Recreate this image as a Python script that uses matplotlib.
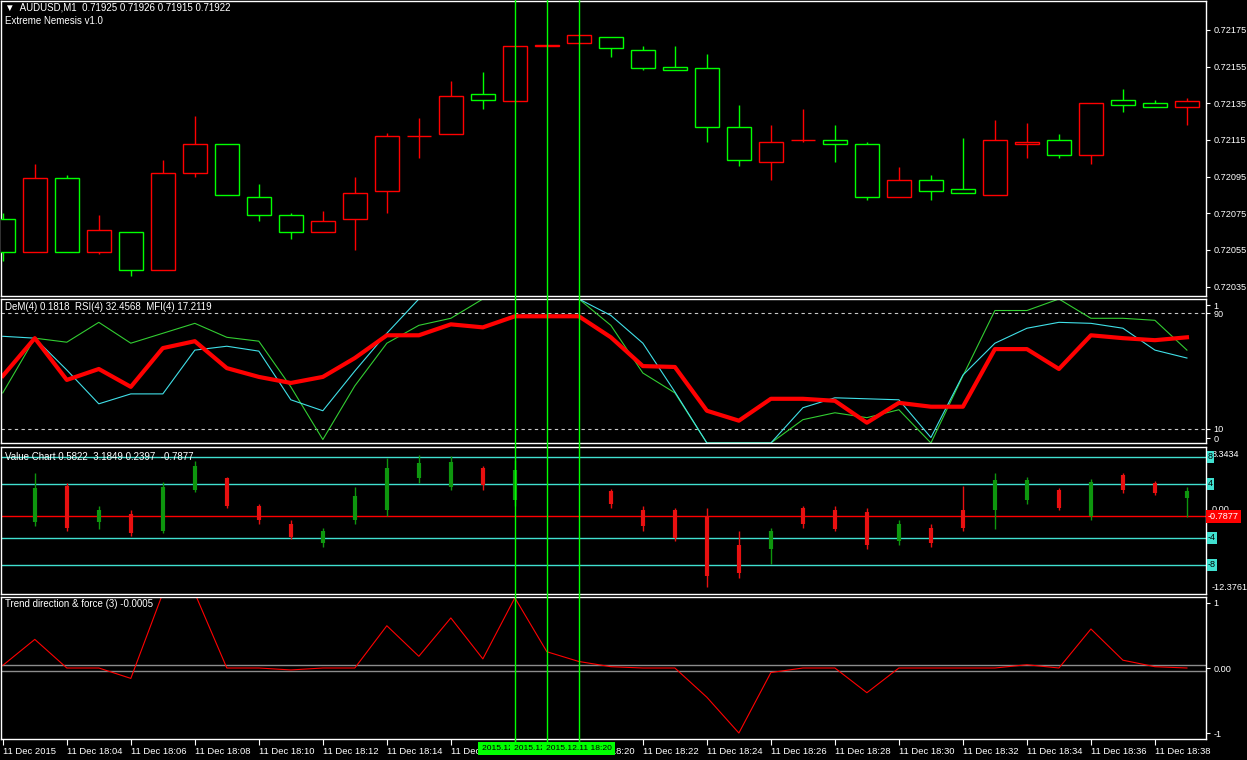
import matplotlib
matplotlib.use('Agg')
import matplotlib.pyplot as plt
import numpy as np
from matplotlib.lines import Line2D
from matplotlib import transforms

plt.rcParams['font.family'] = ['Liberation Sans', 'DejaVu Sans']
plt.rcParams['font.size'] = 6.6

# AUDUSD M1 candles, 11 Dec 2015 18:02 .. 18:39
opens = [0.72072, 0.72054, 0.72094, 0.72054, 0.72065, 0.72044, 0.72097, 0.72113, 0.72084, 0.72074,
         0.72065, 0.72072, 0.72087, 0.72117, 0.72118, 0.72140, 0.72136, 0.72166, 0.72168, 0.72171,
         0.72164, 0.72155, 0.72154, 0.72122, 0.72103, 0.72115, 0.72115, 0.72113, 0.72084, 0.72093,
         0.72088, 0.72085, 0.72113, 0.72115, 0.72107, 0.72137, 0.72135, 0.72133]
highs = [0.72075, 0.72102, 0.72096, 0.72074, 0.72065, 0.72104, 0.72128, 0.72113, 0.72091, 0.72075,
         0.72076, 0.72095, 0.72119, 0.72127, 0.72147, 0.72152, 0.72166, 0.72167, 0.72172, 0.72171,
         0.72166, 0.72166, 0.72162, 0.72134, 0.72123, 0.72132, 0.72123, 0.72114, 0.72100, 0.72096,
         0.72116, 0.72126, 0.72124, 0.72118, 0.72135, 0.72143, 0.72137, 0.72138]
lows = [0.72049, 0.72054, 0.72054, 0.72053, 0.72041, 0.72044, 0.72095, 0.72085, 0.72071, 0.72061,
        0.72065, 0.72055, 0.72075, 0.72105, 0.72118, 0.72132, 0.72136, 0.72166, 0.72168, 0.72160,
        0.72153, 0.72153, 0.72114, 0.72101, 0.72093, 0.72114, 0.72103, 0.72082, 0.72084, 0.72082,
        0.72086, 0.72085, 0.72105, 0.72105, 0.72102, 0.72130, 0.72133, 0.72123]
closes = [0.72054, 0.72094, 0.72054, 0.72066, 0.72044, 0.72097, 0.72113, 0.72085, 0.72074, 0.72065,
          0.72071, 0.72086, 0.72117, 0.72117, 0.72139, 0.72137, 0.72166, 0.72167, 0.72172, 0.72165,
          0.72154, 0.72153, 0.72122, 0.72104, 0.72114, 0.72115, 0.72113, 0.72084, 0.72093, 0.72087,
          0.72086, 0.72115, 0.72114, 0.72107, 0.72135, 0.72134, 0.72133, 0.72136]

# DeM / RSI / MFI window (0..100)
rsi = [46.6, 72.8, 43.8, 51.4, 39.0, 65.9, 70.7, 52.0, 45.9, 41.7, 45.9, 59.0, 74.8, 74.8, 82.4,
       80.3, 88.0, 88.0, 88.0, 73.4, 53.4, 52.8, 22.4, 15.5, 30.7, 30.7, 29.3, 14.1, 27.9, 25.2,
       25.2, 65.2, 65.2, 51.4, 74.8, 72.8, 71.4, 73.4]
mfi = [34.8, 72.8, 70.0, 83.8, 69.3, 76.2, 83.1, 73.4, 70.7, 39.0, 2.4, 39.7, 69.3, 81.7, 86.6,
       100, 100, 100, 100, 81.7, 48.6, 34.8, 0, 0, 0, 16.2, 21.0, 17.6, 23.1, 0,
       46.6, 92.0, 92.0, 100, 86.6, 86.6, 85.2, 64.5]
dem = [74.1, 72.8, 50.7, 27.2, 34.1, 34.1, 64.5, 67.2, 63.8, 30.0, 22.4, 50.0, 76.2, 100, 100,
       100, 100, 100, 100, 88.6, 69.3, 35.5, 0, 0, 0, 24.5, 31.4, 30.7, 30.0, 3.8,
       47.2, 69.3, 79.7, 83.8, 83.1, 79.7, 64.5, 59.0]

# Value Chart bars
nan = np.nan
vc_high = [nan, 5.7, 4.1, 0.8, 0.1, 4.3, 7.4, 5.1, 1.1, -1.4, -2.5, 3.5, 7.8, 8.3, 8.1, 6.6, 7.5, nan, nan,
           3.2, 0.7, 0.5, 0.5, -2.9, -2.5, 0.8, 0.8, 0.4, -1.4, -1.9, 3.7, 5.6, 5.1, 3.4, 4.7, 5.6, 4.4, 3.6]
vc_low = [nan, -2.2, -2.9, -2.6, -3.7, -3.2, 2.8, 0.4, -1.9, -4.1, -5.3, -2.0, -0.7, 4.1, 3.1, 3.1, 0.8, nan, nan,
          0.5, -2.9, -4.4, -11.3, -9.9, -7.8, -2.5, -2.9, -5.6, -5.1, -5.4, -2.9, -2.6, 1.1, 0.1, -1.4, 2.6, 2.3, -0.9]
vc_open = [nan, -1.7, 3.7, -1.7, -0.5, -2.9, 3.1, 4.9, 0.7, -2.0, -4.7, -1.4, 0.1, 4.9, 3.5, 6.3, 1.6, nan, nan,
           2.9, 0.1, 0.1, -0.7, -5.1, -5.6, 0.4, 0.1, -0.2, -4.4, -2.5, 0.1, 0.1, 1.6, 3.1, -0.7, 5.3, 4.1, 1.9]
vc_close = [nan, 3.4, -2.5, 0.1, -3.2, 3.5, 6.6, 0.8, -1.4, -3.8, -2.9, 2.2, 6.3, 7.1, 7.2, 3.8, 6.0, nan, nan,
            1.1, -2.2, -4.0, -9.6, -9.2, -2.9, -1.9, -2.6, -5.1, -1.9, -4.7, -2.5, 4.6, 4.6, 0.5, 4.3, 3.1, 2.6, 3.0]

# Trend direction & force (3)
trend = [0.04, 0.44, 0.0, 0.0, -0.16, 1.15, 1.15, 0.0, 0.0, -0.03, 0.0, 0.0, 0.65, 0.18, 0.77,
         0.14, 1.08, 0.25, 0.10, 0.02, 0.0, 0.0, -0.45, -1.0, -0.07, 0.0, 0.0, -0.38, 0.0, 0.0,
         0.0, 0.0, 0.05, 0.0, 0.60, 0.12, 0.02, 0.0]

tick_pos = [0, 2, 4, 6, 8, 10, 12, 14, 16, 18, 20, 22, 24, 26, 28, 30, 32, 34, 36]
tick_labels = ['11 Dec 2015', '11 Dec 18:04', '11 Dec 18:06', '11 Dec 18:08', '11 Dec 18:10',
               '11 Dec 18:12', '11 Dec 18:14', '11 Dec 18:16', '11 Dec 18:18', '11 Dec 18:20',
               '11 Dec 18:22', '11 Dec 18:24', '11 Dec 18:26', '11 Dec 18:28', '11 Dec 18:30',
               '11 Dec 18:32', '11 Dec 18:34', '11 Dec 18:36', '11 Dec 18:38']
vline_pos = [16, 17, 18]
vline_labels = ['2015.12.11 18:18', '2015.12.11 18:19', '2015.12.11 18:20']

W, H = 1247, 760
fig = plt.figure(figsize=(W / 100, H / 100), dpi=100, facecolor='black')


def rect(top, bottom):
    return [1 / W, 1 - bottom / H, 1204.5 / W, (bottom - top) / H]


ax1 = fig.add_axes(rect(1, 296))
ax2 = fig.add_axes(rect(299, 443), sharex=ax1)
ax3 = fig.add_axes(rect(447, 594), sharex=ax1)
ax4 = fig.add_axes(rect(597, 739), sharex=ax1)

for ax in (ax1, ax2, ax3, ax4):
    ax.set_facecolor('black')
    for s in ax.spines.values():
        s.set_color('white')
        s.set_linewidth(1)
    ax.yaxis.tick_right()
    ax.tick_params(axis='y', colors='white', length=3, direction='out', pad=2.5, labelsize=6.6)
    ax.tick_params(axis='x', bottom=False, labelbottom=False)

x = np.arange(len(opens))
ax1.set_xlim(-0.056, 37.58)

# --- price candles
red, green = '#ff0000', '#00ff00'
o = np.array(opens); c = np.array(closes)
cols = [red if cc >= oo else green for oo, cc in zip(o, c)]
ax1.vlines(x, lows, highs, colors=cols, lw=1, zorder=2)
ax1.bar(x, np.abs(c - o), bottom=np.minimum(o, c), width=0.75, facecolor='black',
        edgecolor=cols, linewidth=1, zorder=3)
ax1.set_ylim(0.720299, 0.721908)
pt = [0.72035, 0.72055, 0.72075, 0.72095, 0.72115, 0.72135, 0.72155, 0.72175]
ax1.set_yticks(pt)
ax1.set_yticklabels(['%.5f' % p for p in pt])

# --- DeM / RSI / MFI
ax2.set_ylim(0, 100)
ax2.axhline(90, color='#c8c8c8', lw=0.8, dashes=(3, 3))
ax2.axhline(10, color='#c8c8c8', lw=0.8, dashes=(3, 3))
ax2.plot(x, mfi, color='#32cd32', lw=0.8)
ax2.plot(x, dem, color='#40e0e8', lw=0.8)
ax2.plot(x, rsi, color='#ff0000', lw=3)
ax2.set_yticks([95.8, 90, 10, 3.4])
ax2.set_yticklabels(['1', '90', '10', '0'])

# --- Value Chart
ax3.set_ylim(-12.3, 9.48)
for lv in (8, 4, -4, -8):
    ax3.axhline(lv, color='#40e0d0', lw=1)
ax3.axhline(-0.7877, color='#ff0000', lw=1)
vo = np.array(vc_open); vcl = np.array(vc_close)
vcols = ['#0e960e' if b > a else '#e81010' for a, b in zip(vo, vcl)]
ax3.vlines(x, vc_low, vc_high, colors=vcols, lw=1)
ax3.vlines(x, vo, vcl, colors=vcols, lw=3)
ax3.set_yticks([8, 4, 0, -4, -8])
ax3.set_yticklabels([])
bt = transforms.blended_transform_factory(ax3.transAxes, ax3.transData)
ax3.text(1.005, 8.3, '8.3434', transform=bt, color='white', va='center', ha='left', clip_on=False)
ax3.text(1.005, -11.36, '-12.3761', transform=bt, color='white', va='center', ha='left', clip_on=False)
ax3.text(1.005, 0.25, '0.00', transform=bt, color='white', va='center', ha='left', clip_on=False)
for lv in (8, 4, -4, -8):
    ax3.text(1.002, lv, str(lv), transform=bt, color='black', va='center', ha='left', clip_on=False,
             bbox=dict(fc='#40e0d0', ec='none', pad=1.0))
ax3.text(1.002, -0.7877, '-0.7877', transform=bt, color='white', va='center', ha='left', clip_on=False,
         bbox=dict(fc='#ff0000', ec='none', pad=1.5))

# --- Trend direction & force
ax4.set_ylim(-1.092, 1.092)
ax4.axhline(0.05, color='#8c8c8c', lw=1)
ax4.axhline(-0.05, color='#8c8c8c', lw=1)
ax4.plot(x, trend, color='#ff0000', lw=0.8)
ax4.set_yticks([1, 0, -1])
ax4.set_yticklabels(['1', '0.00', '-1'])
ax4.tick_params(axis='x', bottom=True, labelbottom=True, colors='white', length=4,
                direction='out', pad=1.5, labelsize=6.8)
ax4.set_xticks(tick_pos)
ax4.set_xticklabels(tick_labels, ha='left')

# --- vertical lines with date labels
ft = transforms.blended_transform_factory(ax1.transData, fig.transFigure)
for p in vline_pos:
    fig.add_artist(Line2D([p, p], [1 - 742 / H, 1], transform=ft, color='#00ff00', lw=1))
for p, lab in zip(vline_pos, vline_labels):
    fig.text(p, 1 - 748.5 / H, lab, transform=ft, ha='center', va='center', color='black',
             fontsize=6.1, bbox=dict(fc='#00ff00', ec='none', pad=2.5))

# --- window captions
fig.text(5 / W, 1 - 8 / H, '\u25bc  AUDUSD,M1  0.71925 0.71926 0.71915 0.71922', color='white', va='center',
         fontsize=7)
fig.text(5 / W, 1 - 21 / H, 'Extreme Nemesis v1.0', color='white', va='center', fontsize=7)
fig.text(5 / W, 1 - 307 / H, 'DeM(4) 0.1818  RSI(4) 32.4568  MFI(4) 17.2119', color='white', va='center',
         fontsize=7)
fig.text(5 / W, 1 - 457 / H, 'Value Chart 0.5822  3.1849 0.2397  -0.7877', color='white', va='center',
         fontsize=7)
fig.text(5 / W, 1 - 604 / H, 'Trend direction & force (3) -0.0005', color='white', va='center', fontsize=7)

fig.savefig('out.png', dpi=100, facecolor='black')
